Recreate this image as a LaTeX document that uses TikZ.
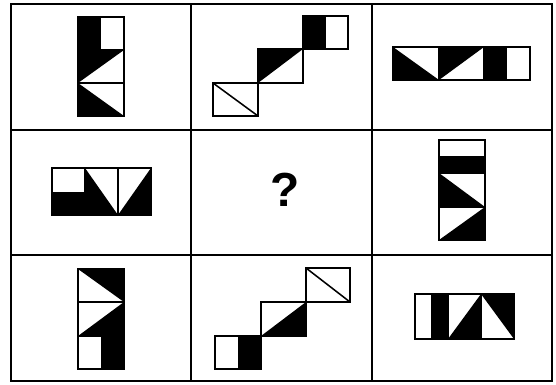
\documentclass[tikz,border=0pt]{standalone}
\usepackage{fontspec}
\newfontfamily\qfont{Liberation Sans}
\usetikzlibrary{positioning}

\begin{document}
\begin{tikzpicture}[
  x=0.025cm, y=-0.025cm,
  node distance=0pt and 0pt,
  panel/.style={rectangle, draw=black, line width=1.4pt, outer sep=0pt, inner sep=0pt,
               minimum width=4.5075cm, minimum height=3.1425cm},
  tile/.style={draw=black, line width=1.1pt},
  ink/.style={fill=black},
  qmark/.style={font=\qfont\bfseries\fontsize{34}{34}\selectfont, inner sep=0pt}
]
\path[fill=white, use as bounding box] (0,0) rectangle (556,385);
\node[panel] (p11) at (101.15,66.85) {};
\node[panel, right=of p11] (p12) {};
\node[panel, right=of p12] (p13) {};
\node[panel, below=of p11] (p21) {};
\node[panel, right=of p21] (p22) {};
\node[panel, right=of p22] (p23) {};
\node[panel, below=of p21] (p31) {};
\node[panel, right=of p31] (p32) {};
\node[panel, right=of p32] (p33) {};
\node[qmark] (q) at (285,190) {?};

\fill[ink] (78,17) rectangle (101,50);
\fill[ink] (78,50) -- (124,50) -- (78,83) -- cycle;
\fill[ink] (78,83) -- (78,116) -- (124,116) -- cycle;
\draw[tile] (78,17) rectangle (124,50) (78,50) rectangle (124,83) (78,83) rectangle (124,116);

\fill[ink] (303,16) rectangle (326,49);
\fill[ink] (258,49) -- (303,49) -- (258,83) -- cycle;
\draw[tile] (303,16) rectangle (348,49) (258,49) rectangle (303,83) (213,83) rectangle (258,116);
\draw[tile] (213,83) -- (258,116);

\fill[ink] (393,47) -- (393,80) -- (439,80) -- cycle;
\fill[ink] (439,47) -- (484,47) -- (439,80) -- cycle;
\fill[ink] (484,47) rectangle (507,80);
\draw[tile] (393,47) rectangle (439,80) (439,47) rectangle (484,80) (484,47) rectangle (530,80);

\fill[ink] (52,192) rectangle (85,215);
\fill[ink] (85,168) -- (85,215) -- (118,215) -- cycle;
\fill[ink] (118,215) -- (151,215) -- (151,168) -- cycle;
\draw[tile] (52,168) rectangle (85,215) (85,168) rectangle (118,215) (118,168) rectangle (151,215);

\fill[ink] (439,156) rectangle (485,173);
\fill[ink] (439,173) -- (439,207) -- (485,207) -- cycle;
\fill[ink] (485,207) -- (485,240) -- (439,240) -- cycle;
\draw[tile] (439,140) rectangle (485,173) (439,173) rectangle (485,207) (439,207) rectangle (485,240);

\fill[ink] (78,269) -- (124,269) -- (124,302) -- cycle;
\fill[ink] (124,302) -- (124,336) -- (78,336) -- cycle;
\fill[ink] (101,336) rectangle (124,369);
\draw[tile] (78,269) rectangle (124,302) (78,302) rectangle (124,336) (78,336) rectangle (124,369);

\fill[ink] (238,336) rectangle (261,369);
\fill[ink] (306,302) -- (306,336) -- (261,336) -- cycle;
\draw[tile] (215,336) rectangle (261,369) (261,302) rectangle (306,336) (306,268) rectangle (350,302);
\draw[tile] (306,268) -- (350,302);

\fill[ink] (431,294) rectangle (448,339);
\fill[ink] (481,294) -- (481,339) -- (448,339) -- cycle;
\fill[ink] (481,294) -- (514,294) -- (514,339) -- cycle;
\draw[tile] (415,294) rectangle (448,339) (448,294) rectangle (481,339) (481,294) rectangle (514,339);
\end{tikzpicture}
\end{document}
